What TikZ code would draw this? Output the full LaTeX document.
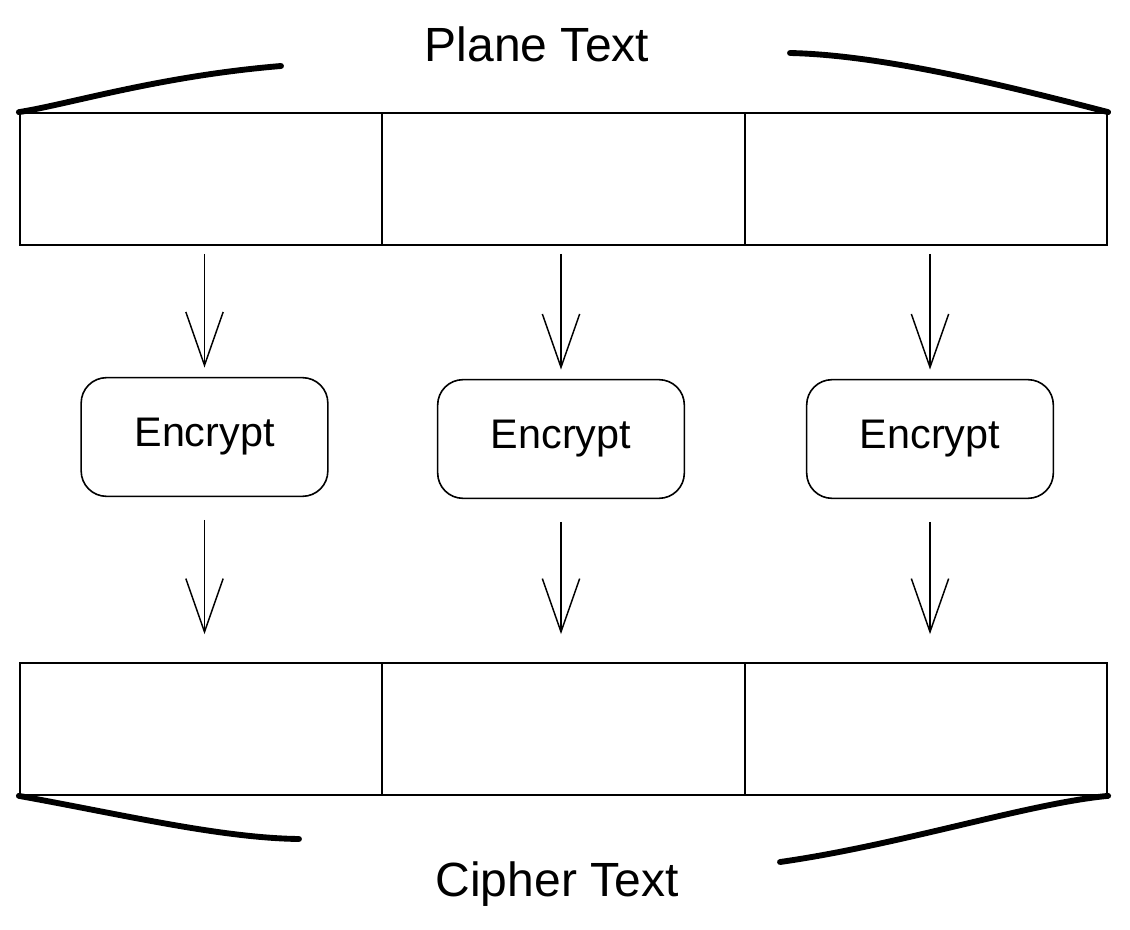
\documentclass[tikz,border=0pt]{standalone}
\usepackage{fontspec}
\setmainfont{Liberation Sans}
\usetikzlibrary{arrows.meta}

\tikzset{every picture/.style={line width=0.75pt}}
\tikzset{
  block/.style={draw, line width=1.3pt, inner sep=0pt, minimum width=271.9pt, minimum height=99pt},
  encbox/.style={draw, line width=1.2pt, rounded corners=19pt, minimum width=185pt, minimum height=89pt, font=\fontsize{31}{36}\selectfont},
  flow/.style={line width=1.1pt, -{Straight Barb[length=40pt,width=28pt,line width=1.1pt]}},
  brace/.style={line width=4.4pt, line cap=round},
  caption/.style={font=\fontsize{36}{42}\selectfont}
}

\begin{document}
\begin{tikzpicture}[x=0.75pt,y=0.75pt,yscale=-1,xscale=1]
	\useasboundingbox (0,0) rectangle (1130,930);

	% Plane text blocks
	\node [block] (p1) at (201,179) {};
	\node [block] (p2) at (563.5,179) {};
	\node [block] (p3) at (926,179) {};

	% Encrypt boxes
	\node [encbox] (e1) at (204.5,437) {Encrypt};
	\node [encbox] (e2) at (561,439) {Encrypt};
	\node [encbox] (e3) at (930,439) {Encrypt};

	% Cipher text blocks
	\node [block] (c1) at (201,729) {};
	\node [block] (c2) at (563.5,729) {};
	\node [block] (c3) at (926,729) {};

	% Arrows
	\draw [flow, shorten <=6pt, shorten >=7pt] (p1.south -| e1) -- (e1);
	\draw [flow, shorten <=6pt, shorten >=7pt] (p2.south -| e2) -- (e2);
	\draw [flow, shorten <=6pt, shorten >=7pt] (p3.south -| e3) -- (e3);
	\draw [flow, shorten <=17pt, shorten >=21pt] (e1) -- (c1.north -| e1);
	\draw [flow, shorten <=17pt, shorten >=21pt] (e2) -- (c2.north -| e2);
	\draw [flow, shorten <=17pt, shorten >=21pt] (e3) -- (c3.north -| e3);

	% Braces
	\coordinate (tl) at (281,66);
	\coordinate (tr) at (790,53);
	\coordinate (bl) at (299,839);
	\coordinate (br) at (780,862);
	\draw [brace] (p1.north west) .. controls (70,104) and (160,76) .. (tl);
	\draw [brace] (tr) .. controls (880,55) and (1000,84) .. (p3.north east);
	\draw [brace] (c1.south west) .. controls (120,814) and (220,838) .. (bl);
	\draw [brace] (br) .. controls (900,845) and (1030,803) .. (c3.south east);

	% Text Node
	\node [caption] (plain) at (537,44) {Plane Text};
	% Text Node
	\node [caption] (cipher) at (557,884) {Cipher Text};

\end{tikzpicture}
\end{document}
